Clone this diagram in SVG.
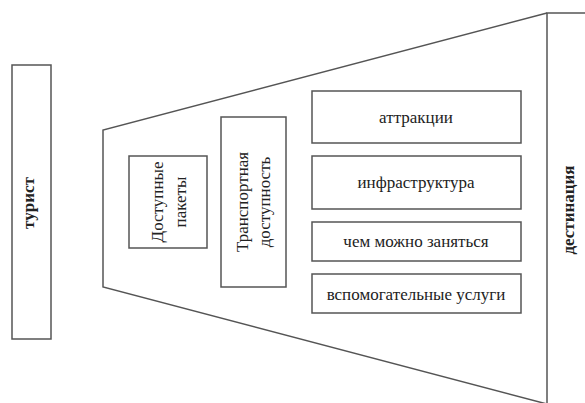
<svg xmlns="http://www.w3.org/2000/svg" width="585" height="403" viewBox="0 0 585 403">
<style>
.box{fill:#fff;stroke:#555;stroke-width:1.5}
.ln{fill:none;stroke:#555;stroke-width:1.5}
.t{font-family:"Liberation Serif","Times New Roman",serif;font-size:17px;fill:#222;text-anchor:middle;dominant-baseline:central}
.b{font-weight:bold}
</style>
<rect width="585" height="403" fill="#fff"/>
<g id="connectors">
<polyline class="ln" points="547,13 103,130 103,287 547,404"/>
</g>
<g id="turist">
<rect class="box" x="12" y="65" width="39" height="274"/>
<text class="t b" transform="translate(28,203) rotate(-90)">турист</text>
</g>
<g id="destination">
<rect class="box" x="547" y="13" width="45" height="395"/>
<text class="t b" transform="translate(568,210) rotate(-90)">дестинация</text>
</g>
<g id="packages">
<rect class="box" x="129" y="156" width="78" height="92"/>
<text class="t" transform="translate(157,202) rotate(-90)">Доступные</text>
<text class="t" transform="translate(180,202) rotate(-90)">пакеты</text>
</g>
<g id="transport">
<rect class="box" x="221" y="117" width="65" height="170"/>
<text class="t" transform="translate(242,202) rotate(-90)">Транспортная</text>
<text class="t" transform="translate(264,202) rotate(-90)">доступность</text>
</g>
<g id="attractions">
<rect class="box" x="312" y="91" width="209" height="52"/>
<text class="t" x="416" y="117">аттракции</text>
</g>
<g id="infrastructure">
<rect class="box" x="312" y="156" width="209" height="53"/>
<text class="t" x="416" y="182">инфраструктура</text>
</g>
<g id="activities">
<rect class="box" x="312" y="222" width="209" height="39"/>
<text class="t" x="416" y="241">чем можно заняться</text>
</g>
<g id="services">
<rect class="box" x="312" y="274" width="209" height="39"/>
<text class="t" x="416" y="294">вспомогательные услуги</text>
</g>
</svg>
